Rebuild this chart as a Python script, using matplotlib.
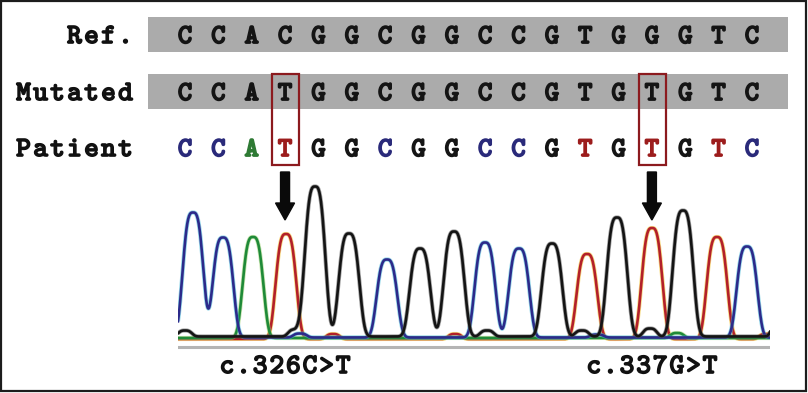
import numpy as np
import matplotlib

matplotlib.use("Agg")
import matplotlib.pyplot as plt
import matplotlib.patheffects as pe
from matplotlib.patches import Rectangle, FancyArrow

# sequences (one letter per base)
ref_seq = list("CCACGGCGGCCGTGGGTC")
mut_seq = list("CCATGGCGGCCGTGTGTC")
pat_seq = list("CCATGGCGGCCGTGTGTC")
row_labels = ["Ref.", "Mutated", "Patient"]
mutation_idx = [3, 14]
mutation_labels = ["c.326C>T", "c.337G>T"]

# chromatogram peaks (scan position, height), one per called base
peak_scan = [15, 45, 75, 108, 137, 171, 209, 242, 276, 307, 341, 374, 409, 439, 474, 505, 539, 569]
peak_height = [125, 100, 101, 105, 150, 103, 78, 88, 105, 95, 89, 93, 85, 119, 111, 126, 102, 91]

# small background bumps and the peak cut off at the right edge
extra_base = ["G", "G", "G", "G", "G", "T", "T", "T", "C", "C", "A", "G"]
extra_scan = [7, 117, 309, 404, 472, 155, 277, 588, 122, 419, 499, 609]
extra_height = [6, 7, 6, 6, 8, 5, 5, 5, 4, 3, 5, 100]

W, H = 808, 393
trace_color = {"A": "#1f8a38", "C": "#2c2a8a", "G": "#141414", "T": "#b3202a"}
halo_color = {"A": "#9ad070", "C": "#40b8d8", "G": "#555555", "T": "#f0c020"}
letter_color = {"A": "#2e7a34", "C": "#2a2a7a", "G": "#151515", "T": "#9c1c1c"}
base_offset = {"A": 0.0, "C": 0.5, "G": 1.5, "T": -1.0}

fig = plt.figure(figsize=(W / 100, H / 100), dpi=100)
fig.patch.set_facecolor("white")
ax = fig.add_axes([0, 0, 1, 1])
ax.set_xlim(0, W)
ax.set_ylim(H, 0)
ax.axis("off")

TT = "cmtt10"


def glyph(x, y, ch, size, color, stroke=1.1):
    # courier-like bold: typewriter glyph thickened by a stroke of its own colour
    ax.text(x, y, ch, ha="center", va="baseline", family=TT, fontsize=size,
            color=color, path_effects=[pe.withStroke(linewidth=stroke, foreground=color)])


def typewriter(x_left, y, s, advance=17.0, size=20.0, color="#111111"):
    for k, ch in enumerate(s):
        glyph(x_left + advance * (k + 0.5), y, ch, size, color, 1.2)


x0, step = 185, 33.35
xs = x0 + step * np.arange(len(ref_seq))

# grey bars behind reference / mutated rows
for top in (17, 74):
    ax.add_patch(Rectangle((148, top), 640, 35, facecolor="#ababab", edgecolor="none"))

baselines = [43, 100, 156]
for label, yb in zip(row_labels, baselines):
    typewriter(134 - 17.0 * len(label), yb, label)

for i, (r, m, p) in enumerate(zip(ref_seq, mut_seq, pat_seq)):
    glyph(xs[i], baselines[0], r, 19.5, "#141414", 1.3)
    glyph(xs[i], baselines[1], m, 19.5, "#141414", 1.3)
    glyph(xs[i], baselines[2], p, 19.5, letter_color[p], 1.3)

# mutation boxes, arrows, labels
for idx, lab in zip(mutation_idx, mutation_labels):
    xc = xs[idx]
    ax.add_patch(Rectangle((xc - 13, 74), 27, 91, facecolor="none",
                           edgecolor="#8c1a1e", linewidth=1.6))
    ax.add_patch(FancyArrow(xc, 172, 0, 48, width=9, head_width=19, head_length=17,
                            length_includes_head=True, color="#0a0a0a"))
    typewriter(xc - 16.6 * len(lab) / 2, 373, lab, advance=16.6)

# frame round the whole figure
ax.add_patch(Rectangle((1, 1), W - 3, H - 3, facecolor="none",
                       edgecolor="#1c1c1c", linewidth=1.6))

# chromatogram
left, right, top, bottom = 178, 770, 180, 350
cax = fig.add_axes([left / W, (H - bottom) / H, (right - left) / W, (bottom - top) / H])
cax.set_xlim(0, right - left)
cax.set_ylim(-12, bottom - top - 12)
cax.axis("off")
cax.patch.set_visible(False)

cax.axhline(-8.5, color="#b4b4b4", linewidth=2.2)

scan = np.linspace(0, right - left, 1400)
width, power = 12.0, 3.2
for base in ["T", "A", "C", "G"]:
    sig = np.zeros_like(scan) + base_offset[base]
    for b, s, h in zip(pat_seq, peak_scan, peak_height):
        if b == base:
            sig += h * np.exp(-np.abs((scan - s) / width) ** power)
    for b, s, h in zip(extra_base, extra_scan, extra_height):
        if b == base:
            w = width if h > 20 else 8.0
            sig += h * np.exp(-np.abs((scan - s) / w) ** power)
    cax.plot(scan, sig, color=halo_color[base], linewidth=3.0, alpha=0.55,
             solid_capstyle="butt")
    cax.plot(scan, sig, color=trace_color[base], linewidth=1.9)

fig.savefig("out.png", dpi=100)
